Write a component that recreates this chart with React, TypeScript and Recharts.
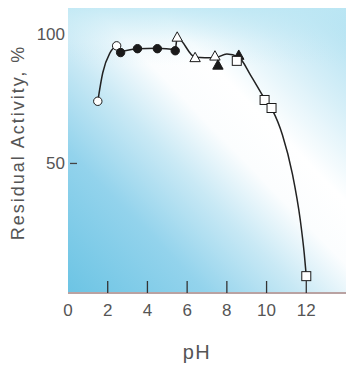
import React from "react";
import {
  ComposedChart,
  Line,
  Scatter,
  XAxis,
  YAxis,
  ReferenceArea,
} from "recharts";

// pH values / residual activity (%)
const openCircles = [
  { ph: 1.5, act: 74 },
  { ph: 2.45, act: 95.4 },
];
const filledCircles = [
  { ph: 2.65, act: 92.8 },
  { ph: 3.5, act: 94.3 },
  { ph: 4.5, act: 94.3 },
  { ph: 5.4, act: 93.5 },
];
const openTriangles = [
  { ph: 5.5, act: 98.8 },
  { ph: 6.4, act: 90.9 },
  { ph: 7.4, act: 91.5 },
];
const filledTriangles = [
  { ph: 7.55, act: 88 },
  { ph: 8.6, act: 91.8 },
];
const openSquares = [
  { ph: 8.5, act: 89.6 },
  { ph: 9.9, act: 74.5 },
  { ph: 10.25, act: 71.4 },
  { ph: 12.0, act: 6.5 },
];
// hand-drawn fitted curve
const fitCurve = [
  { ph: 1.5, act: 74 },
  { ph: 1.75, act: 85 },
  { ph: 2.1, act: 92.5 },
  { ph: 2.45, act: 95 },
  { ph: 2.7, act: 93.4 },
  { ph: 3.5, act: 94.3 },
  { ph: 4.5, act: 94.5 },
  { ph: 5.4, act: 94 },
  { ph: 5.5, act: 98.5 },
  { ph: 6.4, act: 91 },
  { ph: 7.4, act: 90.8 },
  { ph: 8.0, act: 92.2 },
  { ph: 8.6, act: 91 },
  { ph: 9.2, act: 84 },
  { ph: 9.9, act: 75 },
  { ph: 10.3, act: 70.5 },
  { ph: 10.8, act: 61 },
  { ph: 11.3, act: 46 },
  { ph: 11.7, act: 28 },
  { ph: 11.9, act: 15 },
  { ph: 12.0, act: 6.5 },
];
const xTicks = [0, 2, 4, 6, 8, 10, 12];
const yTicks = [50, 100];

const TEXT = "#555";
const FONT = "'Liberation Sans', Arial, Helvetica, sans-serif";

const circleShape = (filled: boolean) => (p: any) => (
  <circle
    cx={p.cx}
    cy={p.cy}
    r={4.2}
    fill={filled ? "#1a1a1a" : "#fff"}
    stroke="#1a1a1a"
    strokeWidth={1}
  />
);
const triShape = (filled: boolean) => (p: any) => {
  const s = 5.2;
  return (
    <path
      d={`M${p.cx},${p.cy - s} L${p.cx + s},${p.cy + s * 0.8} L${p.cx - s},${p.cy + s * 0.8} Z`}
      fill={filled ? "#1a1a1a" : "#fff"}
      stroke="#1a1a1a"
      strokeWidth={1}
    />
  );
};
const squareShape = (p: any) => (
  <rect
    x={p.cx - 4.5}
    y={p.cy - 4.5}
    width={9}
    height={9}
    fill="#fff"
    stroke="#1a1a1a"
    strokeWidth={1}
  />
);

const XTick = (p: any) => {
  const { x, y, payload } = p;
  return (
    <g>
      {payload.value !== 0 && (
        <line x1={x} x2={x} y1={y - 12} y2={y} stroke="#333" strokeWidth={1.3} />
      )}
      <text
        x={x}
        y={y + 23}
        textAnchor="middle"
        fill={TEXT}
        fontSize={17}
        fontFamily={FONT}
      >
        {payload.value}
      </text>
    </g>
  );
};

const YTick = (p: any) => {
  const { x, y, payload } = p;
  return (
    <g>
      {payload.value === 50 && (
        <line x1={x + 2} x2={x + 9} y1={y} y2={y} stroke="#444" strokeWidth={1.3} />
      )}
      <text
        x={x - 3}
        y={y + 6}
        textAnchor="end"
        fill={TEXT}
        fontSize={17}
        fontFamily={FONT}
      >
        {payload.value}
      </text>
    </g>
  );
};

const YTitle = (p: any) => {
  const vb = p.viewBox;
  const cx = vb.x + 24;
  const cy = vb.y + vb.height / 2 - 8;
  return (
    <text
      x={cx}
      y={cy}
      transform={`rotate(-90 ${cx} ${cy})`}
      textAnchor="middle"
      fill={TEXT}
      fontSize={18}
      letterSpacing={2}
      fontFamily={FONT}
    >
      Residual Activity, %
    </text>
  );
};

const XTitle = (p: any) => {
  const vb = p.viewBox;
  const cx = vb.x + vb.width / 2 - 10;
  const cy = vb.y + 66;
  return (
    <text
      x={cx}
      y={cy}
      textAnchor="middle"
      fill={TEXT}
      fontSize={20}
      letterSpacing={1.5}
      fontFamily={FONT}
    >
      pH
    </text>
  );
};

export default function App() {
  return (
    <div style={{ position: "absolute", left: 0, top: 0, background: "#fff" }}>
      <ComposedChart
        width={346}
        height={365}
        margin={{ top: 8, right: 0, left: 0, bottom: 0 }}
      >
        <defs>
          <linearGradient id="bgGrad" x1="0" y1="1" x2="1" y2="0">
            <stop offset="0%" stopColor="#6cc4e4" />
            <stop offset="25%" stopColor="#93d3ec" />
            <stop offset="42%" stopColor="#c9e9f5" />
            <stop offset="55%" stopColor="#fbfdfe" />
            <stop offset="66%" stopColor="#ffffff" />
            <stop offset="82%" stopColor="#d6eff8" />
            <stop offset="100%" stopColor="#aee0f1" />
          </linearGradient>
          <linearGradient id="topGrad" x1="0" y1="0" x2="0" y2="1">
            <stop offset="0%" stopColor="#bde7f4" stopOpacity={0.85} />
            <stop offset="12%" stopColor="#bde7f4" stopOpacity={0.2} />
            <stop offset="20%" stopColor="#bde7f4" stopOpacity={0} />
          </linearGradient>
        </defs>
        <XAxis
          type="number"
          dataKey="ph"
          domain={[0, 14]}
          ticks={xTicks}
          height={72}
          tickSize={0}
          tickMargin={0}
          tickLine={false}
          axisLine={{ stroke: "#b9a2a2", strokeWidth: 2.2 }}
          tick={<XTick />}
          interval={0}
          allowDataOverflow
          label={<XTitle />}
        />
        <YAxis
          type="number"
          dataKey="act"
          domain={[0, 110]}
          ticks={yTicks}
          width={68}
          tickSize={0}
          tickMargin={0}
          tickLine={false}
          axisLine={false}
          tick={<YTick />}
          interval={0}
          allowDataOverflow
          label={<YTitle />}
        />
        <ReferenceArea
          x1={0}
          x2={14}
          y1={0}
          y2={110}
          fill="url(#bgGrad)"
          fillOpacity={1}
          stroke="none"
          ifOverflow="visible"
        />
        <ReferenceArea
          x1={0}
          x2={14}
          y1={0}
          y2={110}
          fill="url(#topGrad)"
          fillOpacity={1}
          stroke="none"
          ifOverflow="visible"
        />
        <Line
          data={fitCurve}
          dataKey="act"
          type="monotone"
          stroke="#222"
          strokeWidth={1.5}
          dot={false}
          activeDot={false}
          isAnimationActive={false}
        />
        <Scatter data={openCircles} dataKey="act" shape={circleShape(false)} isAnimationActive={false} />
        <Scatter data={filledCircles} dataKey="act" shape={circleShape(true)} isAnimationActive={false} />
        <Scatter data={openTriangles} dataKey="act" shape={triShape(false)} isAnimationActive={false} />
        <Scatter data={filledTriangles} dataKey="act" shape={triShape(true)} isAnimationActive={false} />
        <Scatter data={openSquares} dataKey="act" shape={squareShape} isAnimationActive={false} />
      </ComposedChart>
    </div>
  );
}
